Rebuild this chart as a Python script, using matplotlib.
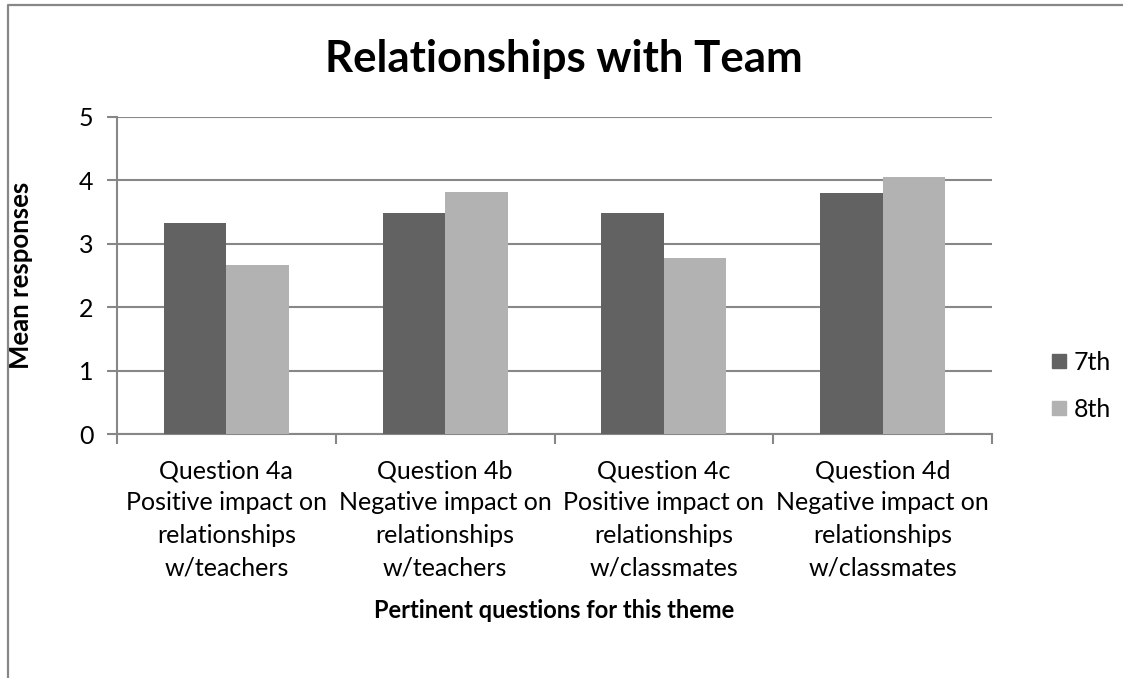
import matplotlib
matplotlib.use("Agg")
import matplotlib.pyplot as plt
from matplotlib.lines import Line2D
import numpy as np

plt.rcParams['font.family'] = ['Lato', 'DejaVu Sans']

categories = [
    "Question 4a\nPositive impact on\nrelationships\nw/teachers",
    "Question 4b\nNegative impact on\nrelationships\nw/teachers",
    "Question 4c\nPositive impact on\nrelationships\nw/classmates",
    "Question 4d\nNegative impact on\nrelationships\nw/classmates",
]
series_names = ["7th", "8th"]
values_7th = [3.33, 3.48, 3.48, 3.80]
values_8th = [2.66, 3.82, 2.78, 4.06]
y_ticks = [0, 1, 2, 3, 4, 5]

colors = ["#626262", "#b2b2b2"]
grid_color = "#878787"

W, H = 1123, 678
fig = plt.figure(figsize=(W / 100, H / 100), dpi=100)
ax = fig.add_axes([117 / W, 1 - 434 / H, (992 - 117) / W, (434 - 117) / H])

x = np.arange(len(categories))
bw = 1 / 3.5
ax.bar(x - bw / 2, values_7th, bw, color=colors[0], label=series_names[0], zorder=3)
ax.bar(x + bw / 2, values_8th, bw, color=colors[1], label=series_names[1], zorder=3)

ax.set_xlim(-0.5, len(categories) - 0.5)
ax.set_ylim(0, 5)
ax.set_yticks(y_ticks)
ax.yaxis.grid(True, color=grid_color, linewidth=1.5, zorder=0)
ax.set_axisbelow(True)

for s in ["top", "right"]:
    ax.spines[s].set_visible(False)
for s in ["left", "bottom"]:
    ax.spines[s].set_color(grid_color)
    ax.spines[s].set_linewidth(1.5)

ax.tick_params(axis="y", direction="out", length=7, width=1.5, color=grid_color,
               labelsize=18, pad=10)
ax.set_xticks(x)
ax.set_xticklabels(categories, fontsize=18, linespacing=1.5)
ax.tick_params(axis="x", which="major", length=0, pad=18)
ax.set_xticks(np.arange(-0.5, len(categories), 1.0), minor=True)
ax.tick_params(axis="x", which="minor", direction="out", length=7, width=1.5,
               color=grid_color)

ax.set_ylabel("Mean responses", fontsize=18.5, fontweight="bold")
ax.yaxis.set_label_coords((33 - 117) / 875, 0.5)
ax.set_xlabel("Pertinent questions for this theme", fontsize=17, fontweight="bold",
              va="center")
ax.xaxis.set_label_coords(0.5, (434 - 611) / 317)

fig.text(564 / W, 1 - 72 / H, "Relationships with Team", fontsize=31.5,
         fontweight="bold", ha="center", va="baseline")

handles = [Line2D([], [], marker="s", linestyle="none", markersize=10.5,
                  markerfacecolor=c, markeredgecolor=c) for c in colors]
fig.legend(handles, series_names, loc="center left",
           bbox_to_anchor=(1036 / W, 1 - 386 / H), frameon=False, fontsize=18,
           handlelength=0.8, handletextpad=0.2, labelspacing=0.95, borderpad=0)

# chart frame (top and left edges)
fig.add_artist(Line2D([8 / W, 8 / W, 1.0], [0.0, 1 - 5 / H, 1 - 5 / H],
                      transform=fig.transFigure, color=grid_color, linewidth=1.6))

fig.savefig("out.png", dpi=100)
